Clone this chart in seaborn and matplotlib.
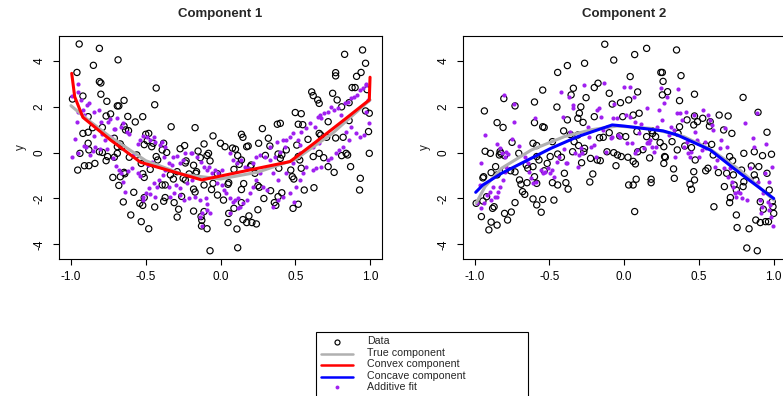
import matplotlib
matplotlib.use("Agg")
import matplotlib.pyplot as plt
import seaborn as sns
import pandas as pd
from matplotlib.lines import Line2D
from matplotlib.patches import Rectangle

# ---------------- data ----------------
titles = ["Component 1", "Component 2"]
x_ticks = [-1.0, -0.5, 0.0, 0.5, 1.0]
x_tick_labels = ["-1.0", "-0.5", "0.0", "0.5", "1.0"]
y_ticks = [-4, -2, 0, 2, 4]
y_tick_labels = ["-4", "-2", "0", "2", "4"]
legend_labels = ["Data", "True component", "Convex component", "Concave component", "Additive fit"]

# Panel 1: data points
data1_x = [-0.945, -0.96, -0.99, -0.92, -0.85, -0.81, -0.81, -0.80, -0.80, -0.685, -0.69, -0.68, -0.76, -0.645,
           -0.62, -0.57, -0.52, -0.43, -0.44, -0.33, -0.17, -0.05, 0.14, 0.15, 0.28, 0.32, 0.38, 0.40, 0.50, 0.54,
           0.52, 0.55, 0.61, 0.62, 0.65, 0.66, 0.77, 0.77, 0.75, 0.83, 0.95, 0.97, 0.94, 0.91, 0.88, 0.90, 0.98,
           0.78, 0.81, 0.86, 0.97, 0.995, 0.99, 0.995, 0.935, 0.93, 0.87, 0.84, 0.85, 0.81, 0.76, 0.77, 0.71,
           0.66, 0.67, 0.86, 0.82, 0.72, 0.62, 0.66, 0.69, 0.72, 0.625, 0.56, 0.52, 0.485, 0.49, 0.48, 0.47,
           0.52, 0.53, 0.54, 0.585, 0.51, 0.44, 0.41, 0.385, 0.40, 0.39, 0.41, 0.385, 0.36, 0.37, 0.335, 0.29,
           0.30, 0.33, 0.255, 0.25, 0.26, 0.25, 0.24, 0.21, 0.19, 0.175, 0.15, 0.11, 0.115, 0.09, 0.055, 0.05,
           0.02, -0.02, -0.07, -0.09, -0.125, -0.127, -0.13, -0.11, -0.18, -0.17, -0.18, -0.26, -0.28, -0.29,
           -0.31, -0.38, -0.37, -0.44, -0.48, -0.51, -0.52, -0.54, -0.53, -0.60, -0.58, -0.65, -0.68, -0.72,
           -0.67, -0.645, -0.64, -0.71, -0.765, -0.755, -0.79, -0.81, -0.84, -0.88, -0.91, -0.955, -0.94, -0.88,
           -0.885, -0.92, -0.885, -0.855, -0.885, -0.79, -0.765, -0.735, -0.71, -0.69, -0.645, -0.635, -0.615,
           -0.69, -0.67, -0.66, -0.61, -0.56, -0.51, -0.50, -0.48, -0.49, -0.45, -0.46, -0.43, -0.47, -0.52,
           -0.51, -0.53, -0.38, -0.39, -0.36, -0.42, -0.335, -0.315, -0.37, -0.39, -0.29, -0.27, -0.24, -0.235,
           -0.23, -0.25, -0.235, -0.21, -0.18, -0.165, -0.16, -0.15, -0.135, -0.11, -0.09, -0.08, -0.07, -0.05,
           -0.11, -0.06, -0.02, 0.0, 0.03, 0.08, 0.10, 0.115, 0.125, 0.14, 0.175, 0.185, 0.205, 0.20, 0.23,
           0.055, 0.05, 0.155, 0.09, 0.14, 0.14]
data1_y = [4.74, 3.5, 2.34, 2.47, 3.81, 4.55, 3.1, 3.04, 2.55, 4.05, 2.04, 2.04, 2.24, 2.28,
           1.58, 1.34, 1.57, 2.82, 2.09, 1.13, 1.09, 0.73, 0.8, 0.67, 1.05, 0.63, 1.24, 1.28, 1.75, 1.7,
           1.24, 1.22, 2.65, 2.49, 2.3, 2.15, 3.49, 3.35, 2.59, 4.29, 4.48, 3.9, 3.5, 3.33, 2.84, 2.84, 2.75,
           2.3, 2.0, 2.18, 1.82, 1.72, 0.92, -0.03, -1.12, -1.63, -0.61, -0.03, -0.1, -0.13, -0.86, 0.64, 0.67,
           0.84, 0.77, 1.4, 0.67, 1.35, -0.17, -0.03, -0.22, -0.61, -1.53, -1.63, -2.25, -2.43, -1.15, -1.05, -0.76,
           -0.17, -0.32, -0.68, 0.58, 0.33, 0.12, -0.1, -0.06, -0.25, -0.68, -1.75, -1.92, -2.18, -2.3, -1.66, -2.0,
           -0.12, 0.29, 0.41, -1.44, -1.51, -2.49, -3.11, -3.05, -2.76, -3.05, -2.92, -3.33, -4.15, -2.43, -2.65, -3.05,
           -2.07, -1.85, -4.28, -3.32, -2.95, -3.2, -2.79, -2.57, -2.55, -1.72, -1.59, -1.91, -2.47, -2.81,
           -2.18, -2.12, -1.96, -2.37, -3.32, -1.96, -2.3, -2.21, -3.01, -2.72, -1.73, -2.15, -1.43, -1.08,
           -1.05, -0.86, -0.92, -0.2, -0.35, -0.17, 0.01, 0.04, -0.47, -0.57, -0.57, -0.76, -0.03, 0.12,
           0.41, 0.84, 0.89, 1.09, 1.57, 1.1, 1.6, 1.69, 0.63, -0.03, 1.16, 0.99, 0.96,
           0.26, 0.38, 0.26, -0.2, -0.1, 0.35, 0.8, 0.84, 0.52, 0.41, 0.26, -0.17, -0.73, -0.92,
           -1.08, -0.47, 0.41, 0.12, 0.01, -0.32, -0.97, -1.15, -1.41, -1.41, -0.83, 0.17, 0.31, -0.45,
           -0.36, -1.12, -1.19, -0.93, -0.55, -0.9, -0.83, 0.07, -0.22, 0.38, -0.12, -0.03, -0.36, -1.34,
           -1.41, -1.61, -0.92, 0.41, 0.26, 0.2, 0.15, -0.13, -0.51, -0.32, 0.26, 0.29, -0.54, -0.61, -0.9,
           -1.31, -1.38, -1.35, -0.73, -1.61, -2.18]

# Panel 1: additive fit points
fit1_x = [-0.95, -0.99, -0.955, -0.93, -0.89, -0.88, -0.95, -0.96, -0.92, -0.91, -0.845, -0.815, -0.80, -0.755,
          -0.74, -0.705, -0.69, -0.665, -0.655, -0.625, -0.615, -0.71, -0.735, -0.775, -0.79, -0.845, -0.90, -0.915,
          -0.95, -0.87, -0.85, -0.84, -0.805, -0.76, -0.72, -0.70, -0.68, -0.665, -0.65, -0.64, -0.62, -0.595,
          -0.585, -0.55, -0.535, -0.52, -0.49, -0.47, -0.445, -0.435, -0.405, -0.39, -0.37, -0.38, -0.345, -0.325,
          -0.37, -0.385, -0.41, -0.445, -0.48, -0.50, -0.515, -0.515, -0.47, -0.44, -0.425, -0.535, -0.55, -0.485,
          -0.46, -0.315, -0.29, -0.27, -0.25, -0.235, -0.20, -0.19, -0.16, -0.13, -0.11, -0.09, -0.075, -0.06,
          -0.04, -0.015, 0.01, -0.025, 0.01, 0.025, 0.04, 0.065, 0.10, 0.115, 0.085, 0.065, 0.115, -0.07, -0.09,
          -0.125, -0.135, -0.125, -0.09, -0.10, -0.135, -0.17, -0.21, -0.245, -0.27, -0.31, -0.335, -0.345, -0.30,
          -0.27, -0.225, -0.19, 0.065, 0.085, 0.11, 0.14, 0.165, 0.185, 0.22, 0.24, 0.265, 0.30, 0.33, 0.365,
          0.40, 0.43, 0.44, 0.465, 0.485, 0.52, 0.53, 0.54, 0.575, 0.60, 0.63, 0.655, 0.665, 0.675, 0.695, 0.72,
          0.74, 0.76, 0.785, 0.805, 0.83, 0.85, 0.875, 0.895, 0.915, 0.93, 0.95, 0.97, 0.975, 0.985, 0.975, 0.99,
          0.96, 0.93, 0.905, 0.875, 0.84, 0.82, 0.795, 0.775, 0.74, 0.72, 0.675, 0.64, 0.62, 0.575, 0.55, 0.53,
          0.505, 0.49, 0.465, 0.42, 0.385, 0.35, 0.31, 0.285, 0.265, 0.24, 0.22, 0.20, 0.175, 0.15, 0.13, 0.86,
          0.66, 0.62, 0.53, 0.485, 0.44, 0.385, 0.35, 0.33, 0.375, 0.42, -0.99, -0.97]
fit1_y = [3.0, 2.49, 2.66, 2.3, 2.08, 2.15, 1.79, 1.35, 1.86, 1.64, 1.79, 1.86, 1.35, 1.32,
          1.45, 1.03, 1.5, 1.13, 1.28, 0.92, 0.81, 1.02, 0.7, 0.55, 0.81, 0.74, 0.26, 0.29,
          0.0, -0.1, 0.09, 0.26, 0.16, 0.15, -0.25, -0.57, -0.76, -0.9, -1.27, -1.7, -0.79, -0.68,
          -0.1, 0.38, 0.55, 0.71, 0.7, 0.55, 0.67, 0.48, 0.33, 0.48, 0.26, -0.17, -0.44, -0.54,
          -0.76, -0.97, -1.19, -1.34, -1.56, -1.77, -1.92, -2.07, -1.8, -1.92, -1.48, -1.02, -0.9, -0.54,
          -0.39, -0.17, -0.15, -0.47, -0.32, 0.0, 0.0, -0.03, -0.17, -0.39, -0.61, -0.76, -0.61, -0.9,
          -0.76, -0.9, -0.76, -1.34, -1.41, -1.63, -1.77, -2.0, -2.07, -2.0, -2.14, -2.65, -2.43, -2.65, -2.5,
          -2.65, -2.79, -3.2, -2.25, -2.0, -2.07, -1.92, -2.0, -2.07, -1.85, -1.77, -1.92, -1.48, -1.41,
          -1.56, -1.34, -1.19, -0.03, -0.32, -0.47, -0.32, -0.61, -0.68, -0.47, -0.17, -0.1, -0.17, -0.32, -0.17,
          0.04, 0.26, 0.55, 0.7, 0.84, 0.55, 0.33, 0.92, 1.06, 1.28, 1.13, 1.57, 1.64, 1.5, 1.72, 1.79,
          2.0, 1.86, 1.93, 1.64, 2.15, 2.22, 2.37, 2.44, 2.52, 2.73, 2.8, 2.95, 3.0, 2.3, 1.79, 1.28,
          0.77, 0.7, 0.84, 1.13, 0.92, 0.26, 0.12, -0.03, -0.25, -0.32, -0.61, -0.68, -0.76, -0.61, -0.9, -1.19,
          -1.48, -2.14, -1.77, -1.92, -2.07, -2.36, -1.63, -1.48, -0.9, -1.19, -1.48, -1.77, -2.07, -2.21, -2.36, 0.55,
          0.41, 0.26, -0.03, -0.47, -0.9, -1.19, -0.9, 0.26, 0.48, 0.55, -0.17, 0.6]

# Panel 1: true and convex component
true1_x = [-1.0, -0.9, -0.75, -0.5, -0.25, 0.0, 0.25, 0.5, 0.75, 1.0]
true1_y = [2.05, 1.5, 0.75, -0.35, -0.95, -1.15, -0.85, -0.3, 0.85, 2.3]
convex_x = [-0.995, -0.975, -0.92, -0.735, -0.535, -0.125, 0.465, 0.64, 0.84, 0.995, 1.0]
convex_y = [3.46, 2.44, 1.54, 0.55, -0.42, -1.19, -0.39, 0.48, 1.5, 2.3, 3.29]

# Panel 2: data points
data2_x = [-0.13, -0.07, 0.07, 0.15, 0.35, -0.445, -0.38, -0.265, -0.34, -0.355, -0.175, -0.2, -0.1, 0.04,
           0.09, 0.245, 0.255, 0.26, 0.255, 0.29, 0.38, 0.37, 0.47, -0.545, -0.935, -0.805, -0.73, -0.6, -0.45,
           -0.29, -0.255, -0.85, -0.81, -0.75, -0.705, -0.93, -0.895, -0.83, -0.825, -0.835, -0.8, -0.94, -0.945,
           -0.89, -0.85, -0.86, -0.795, -0.76, -0.73, -0.70, -0.69, -0.68, -0.665, -0.73, -0.755, -0.78, -0.80,
           -0.85, -0.89, -0.905, -0.955, -0.88, -0.87, -0.99, -0.945, -0.92, -0.655, -0.645, -0.61, -0.65, -0.60,
           -0.585, -0.61, -0.585, -0.555, -0.545, -0.47, -0.445, -0.48, -0.535, -0.515, -0.57, -0.585, -0.61,
           -0.585, -0.545, -0.535, -0.60, -0.38, -0.405, -0.48, -0.495, -0.445, -0.42, -0.40, -0.375, -0.39,
           -0.345, -0.335, -0.36, -0.31, -0.31, -0.30, -0.275, -0.305, -0.265, -0.27, -0.285, -0.225, -0.21,
           -0.23, -0.18, -0.16, -0.165, -0.14, -0.08, -0.025, -0.01, 0.03, -0.115, -0.07, -0.045, -0.055, -0.02,
           0.025, 0.03, 0.06, 0.07, 0.08, 0.06, 0.075, 0.09, 0.125, 0.15, 0.17, 0.18, 0.18, 0.21, 0.24, 0.265,
           0.265, 0.27, 0.275, 0.32, 0.33, 0.335, 0.355, 0.37, 0.36, 0.405, 0.45, 0.42, 0.465, 0.47, 0.49,
           0.525, 0.575, 0.57, 0.635, 0.695, 0.665, 0.72, 0.795, 0.895, 0.955, 0.585, 0.545, 0.595, 0.60, 0.67,
           0.685, 0.705, 0.725, 0.73, 0.735, 0.75, 0.71, 0.705, 0.75, 0.755, 0.835, 0.82, 0.89, 0.795, 0.80,
           0.785, 0.80, 0.85, 0.87, 0.87, 0.88, 0.90, 0.925, 0.91, 0.93, 0.91, 0.88, 0.945, 0.965, 0.97, 0.955,
           0.985, 0.99, 0.995, 1.0, 0.475, 0.465, 0.47, 0.44, 0.45, 0.545, 0.56, 0.63, -0.2, 0.01, -0.03, -0.1,
           0.085, 0.1, 0.06, 0.185, 0.19]
data2_y = [4.73, 4.04, 4.28, 4.55, 4.48, 3.5, 3.8, 3.9, 2.81, 2.52, 3.03, 2.84, 2.59, 3.32,
           2.65, 3.5, 3.5, 3.11, 2.52, 2.66, 3.36, 2.27, 2.55, 2.73, 1.82, 2.36, 2.04, 2.21, 1.99,
           2.0, 2.4, 1.31, 1.1, 0.45, -0.03, 0.06, -0.03, 0.05, -0.03, -0.1, -0.13, -1.05, -1.1,
           -0.87, -0.97, -0.61, -0.76, -0.79, -0.84, -1.19, -1.38, -1.7, -1.82, -2.18, -2.59, -2.94, -2.65,
           -3.16, -3.03, -3.37, -2.79, -2.43, -2.36, -2.21, -2.11, -1.92, -0.54, -0.68, -0.61, -1.31, -1.05,
           -1.34, -2.02, -2.28, -2.6, -2.04, -2.07, -1.41, -1.31, -0.79, -0.47, -0.32, -0.17, 0.41,
           0.31, 1.13, 1.1, 1.31, 1.43, 0.95, 0.48, -0.17, -0.06, -0.2, -0.9, -1.59, -1.31,
           0.04, 0.48, 0.79, 0.77, 1.5, 1.72, 1.32, 0.31, 0.19, 0.04, -0.44, -0.25, -0.93,
           -1.28, -0.32, -0.35, 0.65, 0.67, 2.12, 2.18, 1.57, 2.3, 0.04, 0.0, -0.1, -0.57, -0.17,
           -0.2, -1.41, -1.41, -2.57, -1.16, -0.38, -0.49, 0.04, 0.13, 0.7, -0.23, -1.16, -1.31, 0.7, 0.44, 0.26,
           -0.47, -0.17, -0.2, 0.48, -0.71, -1.12, 0.12, 1.13, 0.84, 0.29, 0.22, 1.43, 1.21, 1.6, 1.35,
           1.5, 1.35, 1.16, 1.64, 1.6, 0.99, 0.84, 2.41, 1.76, 0.89, 0.36, 0.31, -0.1, -2.36, -1.48,
           -0.9, -0.17, -0.35, -0.97, -1.41, -1.63, -1.96, -2.18, -2.72, -3.27, -3.32, -4.16, -4.28, -1.48, -1.27,
           -0.76, -0.03, -0.58, 0.04, -0.97, -1.19, -0.61, -0.13, -2.14, -2.47, -3.05, -2.94, -3.01, -3.01, -1.63, -0.9,
           -0.07, -2.14, -2.36, -2.65, -0.32, -0.83, -1.19, -1.38, -1.6, -0.79, -0.68, -0.87, 1.57, 0.7, 0.73, 0.87,
           0.92, 1.72, 1.64, 0.96, 0.84]

# Panel 2: additive fit points
fit2_x = [-0.93, -0.955, -0.965, -0.985, -0.955, -0.935, -0.92, -0.90, -0.89, -0.88, -0.865, -0.85, -0.845,
          -0.83, -0.81, -0.80, -0.79, -0.805, -0.85, -0.83, -0.82, -0.79, -0.795, -0.775, -0.75, -0.735, -0.74,
          -0.705, -0.665, -0.645, -0.635, -0.625, -0.61, -0.59, -0.595, -0.555, -0.545, -0.53, -0.51, -0.495,
          -0.48, -0.47, -0.45, -0.435, -0.425, -0.41, -0.40, -0.39, -0.38, -0.37, -0.36, -0.345, -0.34, -0.33,
          -0.31, -0.30, -0.29, -0.28, -0.27, -0.245, -0.235, -0.225, -0.20, -0.19, -0.18, -0.17, -0.155, -0.145,
          -0.135, -0.125, -0.115, -0.09, -0.08, -0.075, -0.07, -0.045, -0.04, -0.025, 0.0, 0.01, 0.02, 0.04, 0.04,
          0.05, 0.065, 0.07, 0.075, 0.085, 0.10, 0.11, 0.13, 0.15, 0.16, 0.165, 0.17, 0.155, 0.185, 0.20, 0.21,
          0.22, 0.23, 0.245, 0.255, 0.265, 0.285, 0.30, 0.31, 0.335, 0.34, 0.35, 0.36, 0.375, 0.385, 0.40, 0.41,
          0.42, 0.425, 0.44, 0.45, 0.465, 0.475, 0.485, 0.495, 0.50, 0.52, 0.53, 0.54, 0.55, 0.56, 0.575, 0.585,
          0.595, 0.61, 0.62, 0.64, 0.65, 0.665, 0.675, 0.685, 0.695, 0.705, 0.72, 0.73, 0.74, 0.75, 0.76, 0.775,
          0.785, 0.805, 0.82, 0.84, 0.85, 0.86, 0.87, 0.885, 0.895, 0.905, 0.915, 0.92, 0.93, 0.94, 0.95, 0.96,
          0.97, 0.975, 0.985, 0.995, 0.99, 0.97]
fit2_y = [0.77, -0.47, -1.41, -2.21, -2.43, -2.21, -1.85, -1.7, -2.07, -1.48, -1.92, -1.92, -1.7,
          -1.48, -1.19, -0.83, -0.61, 2.52, 0.38, 0.19, -0.03, 0.04, -0.17, -0.06, 0.58, 2.12, 1.35,
          0.29, -0.17, -0.47, -0.83, -1.12, -1.34, -1.27, 1.5, -0.76, -0.9, -0.83, -0.68, -0.9,
          -0.76, -1.05, -0.42, -0.17, 2.66, 1.57, 0.16, -0.47, -0.44, 2.44, 0.92, 2.08, 1.93, 0.0,
          -0.61, -0.1, 0.19, -0.03, 2.95, 1.13, 0.7, 0.26, 0.33, -0.2, 1.86, 1.93, 1.57, 0.99,
          3.03, 0.04, 1.13, 0.63, 0.7, 1.5, 2.12, 1.5, 0.77, 0.7, 2.88, 1.64, 0.41, 1.57, 2.88,
          0.41, 2.44, -0.03, 1.35, 0.12, 0.84, 1.25, 0.19, 0.41, 0.48, 0.41, 0.55, 1.93, 0.26, 0.04, 0.26,
          1.13, 1.86, 2.84, 1.43, 2.15, 2.44, 0.77, 1.13, 0.99, -0.17, 1.72, 2.76, 1.75, 1.43, 0.26, 1.79,
          0.48, -0.03, -0.17, 0.04, 1.64, 0.92, 0.55, 0.41, -0.17, 0.12, 1.86, 0.48, 0.19, 1.64, 1.43, 1.21,
          0.99, -0.61, -0.32, 0.19, 0.55, -0.68, 1.06, 0.26, -1.05, -0.68, -1.27, -1.48, -1.77, -1.92, -1.7, -1.77,
          -2.0, 1.28, -2.07, -0.68, -1.19, 0.62, 0.26, 1.72, -1.27, -2.07, -2.65, -2.36, -1.77, -0.9, 0.38, -2.14,
          -2.5, -2.28, -2.79, -3.2, -0.61, -1.27]

# Panel 2: true and concave component
true2_x = [-0.99, -0.93, -0.82, -0.62, -0.4, -0.22, -0.05, 0.175, 0.4, 0.575, 0.775, 1.0]
true2_y = [-2.2, -1.48, -0.68, 0.12, 0.7, 1.0, 1.16, 1.06, 0.7, 0.15, -0.76, -2.07]
concave_x = [-0.993, -0.945, -0.82, -0.49, -0.31, -0.08, 0.0, 0.26, 0.355, 0.575, 0.775, 1.0]
concave_y = [-1.73, -1.41, -0.9, 0.19, 0.7, 1.21, 1.16, 0.95, 0.77, 0.12, -0.9, -2.0]

# ---------------- styling ----------------
C_DATA = "black"
C_TRUE = "#B0B0B0"
C_CONVEX = "#FF0000"
C_CONCAVE = "#0000FF"
C_FIT = "#A020F0"

sns.set_style("ticks")
plt.rcParams["font.family"] = ["Liberation Sans", "DejaVu Sans"]

W, H = 783, 396
fig = plt.figure(figsize=(W / 100, H / 100), dpi=100)

def px_axes(left, top, right, bottom):
    return [left / W, 1 - bottom / H, (right - left) / W, (bottom - top) / H]

ax1 = fig.add_axes(px_axes(59, 36, 382, 259))
ax2 = fig.add_axes(px_axes(462.7, 36, 785.7, 259))

panels = [
    (ax1, data1_x, data1_y, fit1_x, fit1_y, true1_x, true1_y, convex_x, convex_y, C_CONVEX),
    (ax2, data2_x, data2_y, fit2_x, fit2_y, true2_x, true2_y, concave_x, concave_y, C_CONCAVE),
]

for i, (ax, dx, dy, fx, fy, tx, ty, cx, cy, ccol) in enumerate(panels):
    d_df = pd.DataFrame({"x": dx, "y": dy})
    f_df = pd.DataFrame({"x": fx, "y": fy})
    t_df = pd.DataFrame({"x": tx, "y": ty})
    c_df = pd.DataFrame({"x": cx, "y": cy})
    sns.scatterplot(data=d_df, x="x", y="y", ax=ax, marker="o", s=20,
                    facecolor="none", edgecolor=C_DATA, linewidth=0.85, zorder=2)
    sns.scatterplot(data=f_df, x="x", y="y", ax=ax, marker="o", s=9,
                    color=C_FIT, edgecolor=C_FIT, linewidth=0, zorder=3)
    sns.lineplot(data=t_df, x="x", y="y", ax=ax, sort=False, estimator=None,
                 color=C_TRUE, linewidth=2.2, zorder=4)
    sns.lineplot(data=c_df, x="x", y="y", ax=ax, sort=False, estimator=None,
                 color=ccol, linewidth=2.2, zorder=5)

    ax.set_xlim(-1.08, 1.08)
    ax.set_ylim(-4.64, 5.09)
    ax.set_xticks(x_ticks)
    ax.set_xticklabels(x_tick_labels)
    ax.set_yticks(y_ticks)
    ax.set_yticklabels(y_tick_labels, rotation=90, va="center")
    ax.tick_params(axis="both", direction="out", length=4.5, width=0.8,
                   labelsize=8.5, colors="black")
    ax.tick_params(axis="x", pad=4)
    ax.tick_params(axis="y", pad=5)
    ax.set_xlabel("")
    ax.set_ylabel("y", fontsize=8.5, labelpad=5)
    ax.set_title(titles[i], fontsize=9.5, fontweight="bold", pad=14)
    for sp in ax.spines.values():
        sp.set_visible(True)
        sp.set_color("black")
        sp.set_linewidth(0.8)
    ax.grid(False)

# ---------------- legend (drawn in figure pixels) ----------------
def fx_(px):
    return px / W

def fy_(py):
    return 1 - py / H

fig.patches.append(Rectangle((fx_(316), fy_(400)), (528 - 316) / W, (400 - 331.7) / H,
                             transform=fig.transFigure, facecolor="white",
                             edgecolor="black", linewidth=0.8, zorder=10))
rows_y = [341.5, 352.8, 364.3, 375.7, 386.9]
handles = [
    ("marker", C_DATA, "none"),
    ("line", C_TRUE, None),
    ("line", C_CONVEX, None),
    ("line", C_CONCAVE, None),
    ("marker", C_FIT, C_FIT),
]
for (kind, col, fc), label, ry in zip(handles, legend_labels, rows_y):
    if kind == "line":
        fig.add_artist(Line2D([fx_(321), fx_(352.7)], [fy_(ry + 1), fy_(ry + 1)],
                              transform=fig.transFigure, color=col, linewidth=1.8, zorder=11))
    else:
        ms = 3.6 if fc == "none" else 2.8
        fig.add_artist(Line2D([fx_(336.7)], [fy_(ry)], transform=fig.transFigure,
                              marker="o", markersize=ms, markerfacecolor=fc,
                              markeredgecolor=col, markeredgewidth=0.85 if fc == "none" else 0,
                              linestyle="none", zorder=11))
    fig.text(fx_(366.7), fy_(ry), label, fontsize=7.7, va="center", ha="left", zorder=12)

fig.savefig("out.png", dpi=100)
